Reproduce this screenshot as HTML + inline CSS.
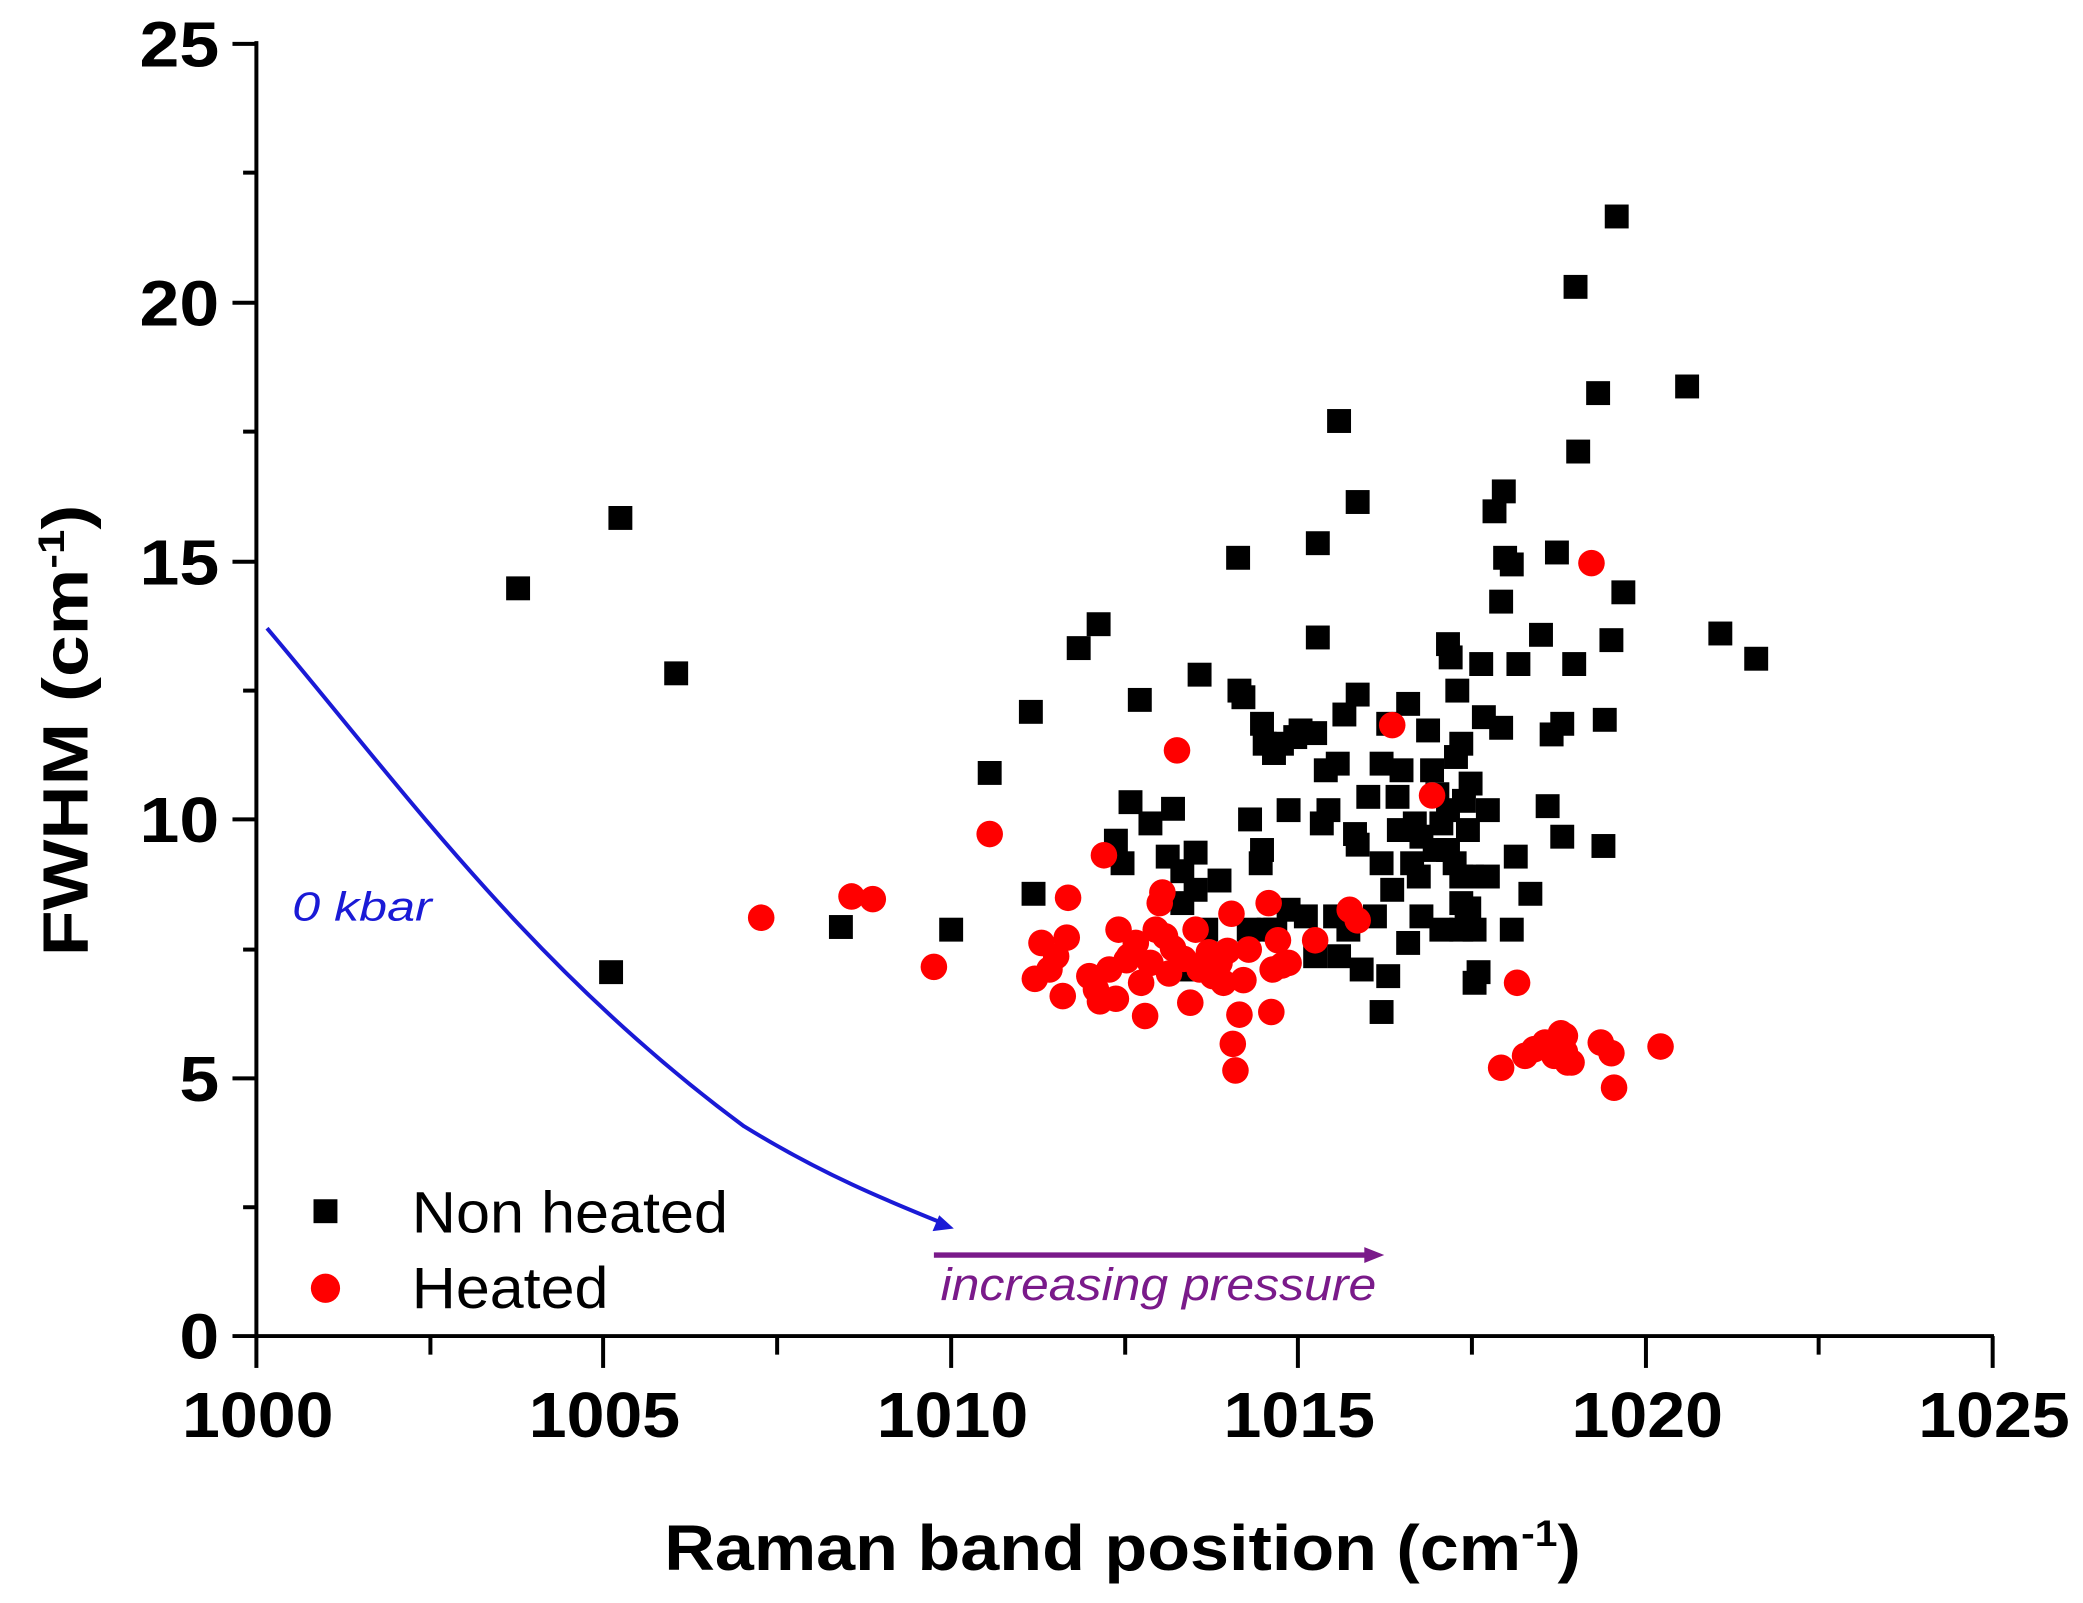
<!DOCTYPE html>
<html><head><meta charset="utf-8"><style>
html,body{margin:0;padding:0;background:#fff;}
svg{display:block;}
text{font-family:"Liberation Sans",Arial,sans-serif;}
</style></head><body>
<svg width="2083" height="1603" viewBox="0 0 1568 1207" preserveAspectRatio="none" xmlns="http://www.w3.org/2000/svg">
<rect width="1568" height="1207" fill="#fff"/>
<g stroke="#000" stroke-width="3" fill="none">
<line x1="193" y1="31" x2="193" y2="1007"/>
<line x1="175" y1="1006" x2="1501" y2="1006"/>
<line x1="175" y1="33" x2="193" y2="33"/><line x1="183" y1="130" x2="193" y2="130"/>
<line x1="175" y1="228" x2="193" y2="228"/><line x1="183" y1="325" x2="193" y2="325"/>
<line x1="175" y1="423" x2="193" y2="423"/><line x1="183" y1="520" x2="193" y2="520"/>
<line x1="175" y1="617" x2="193" y2="617"/><line x1="183" y1="715" x2="193" y2="715"/>
<line x1="175" y1="812" x2="193" y2="812"/><line x1="183" y1="909" x2="193" y2="909"/>
<line x1="193" y1="1006" x2="193" y2="1030"/><line x1="324" y1="1006" x2="324" y2="1020"/>
<line x1="454" y1="1006" x2="454" y2="1030"/><line x1="585" y1="1006" x2="585" y2="1020"/>
<line x1="716" y1="1006" x2="716" y2="1030"/><line x1="847" y1="1006" x2="847" y2="1020"/>
<line x1="977" y1="1006" x2="977" y2="1030"/><line x1="1108" y1="1006" x2="1108" y2="1020"/>
<line x1="1239" y1="1006" x2="1239" y2="1030"/><line x1="1369" y1="1006" x2="1369" y2="1020"/>
<line x1="1500" y1="1006" x2="1500" y2="1030"/>
</g>
<g font-size="48" font-weight="bold" fill="#000">
<text x="105" y="50" textLength="60" lengthAdjust="spacingAndGlyphs">25</text>
<text x="105" y="245" textLength="60" lengthAdjust="spacingAndGlyphs">20</text>
<text x="105" y="440" textLength="60" lengthAdjust="spacingAndGlyphs">15</text>
<text x="105" y="634" textLength="60" lengthAdjust="spacingAndGlyphs">10</text>
<text x="135" y="829" textLength="30" lengthAdjust="spacingAndGlyphs">5</text>
<text x="135" y="1023" textLength="30" lengthAdjust="spacingAndGlyphs">0</text>
<text x="137" y="1082" textLength="114" lengthAdjust="spacingAndGlyphs">1000</text>
<text x="398" y="1082" textLength="114" lengthAdjust="spacingAndGlyphs">1005</text>
<text x="660" y="1082" textLength="114" lengthAdjust="spacingAndGlyphs">1010</text>
<text x="921" y="1082" textLength="114" lengthAdjust="spacingAndGlyphs">1015</text>
<text x="1183" y="1082" textLength="114" lengthAdjust="spacingAndGlyphs">1020</text>
<text x="1444" y="1082" textLength="114" lengthAdjust="spacingAndGlyphs">1025</text>
</g>
<text x="500" y="1182" font-size="48" font-weight="bold" textLength="690" lengthAdjust="spacingAndGlyphs">Raman band position (cm<tspan dy="-18" font-size="28">-1</tspan><tspan dy="18">)</tspan></text>
<text transform="translate(66,720) rotate(-90)" font-size="48" font-weight="bold" textLength="340" lengthAdjust="spacingAndGlyphs">FWHM (cm<tspan dy="-18" font-size="28">-1</tspan><tspan dy="18">)</tspan></text>

<path d="M201,473 C300,590 400,730 560,848 C620,885 670,905 712,922" stroke="#1a1ad6" stroke-width="3" fill="none"/>
<polygon points="718,925 702,927 707,915" fill="#1a1ad6"/>
<text x="220" y="693" font-size="31" font-style="italic" fill="#1a1ad6" textLength="105" lengthAdjust="spacingAndGlyphs">0 kbar</text>
<line x1="703" y1="945" x2="1030" y2="945" stroke="#7a1a8a" stroke-width="4"/>
<polygon points="1042,945 1027,939 1027,951" fill="#7a1a8a"/>
<text x="708" y="979" font-size="34" font-style="italic" fill="#7a1a8a" textLength="328" lengthAdjust="spacingAndGlyphs">increasing pressure</text>

<rect x="236" y="903" width="18" height="18" fill="#000"/>
<text x="310" y="928" font-size="44" textLength="238" lengthAdjust="spacingAndGlyphs">Non heated</text>
<circle cx="245" cy="970" r="11" fill="#f00"/>
<text x="310" y="985" font-size="44" textLength="148" lengthAdjust="spacingAndGlyphs">Heated</text>

<g fill="#000">
<rect x="381" y="434" width="18" height="18"/><rect x="458" y="381" width="18" height="18"/><rect x="500" y="498" width="18" height="18"/><rect x="451" y="723" width="18" height="18"/><rect x="624" y="689" width="18" height="18"/><rect x="707" y="691" width="18" height="18"/><rect x="736" y="573" width="18" height="18"/><rect x="767" y="527" width="18" height="18"/><rect x="769" y="664" width="18" height="18"/><rect x="803" y="479" width="18" height="18"/><rect x="818" y="461" width="18" height="18"/><rect x="831" y="624" width="18" height="18"/><rect x="842" y="595" width="18" height="18"/><rect x="857" y="611" width="18" height="18"/><rect x="849" y="518" width="18" height="18"/><rect x="870" y="636" width="18" height="18"/><rect x="874" y="600" width="18" height="18"/><rect x="881" y="647" width="18" height="18"/><rect x="891" y="661" width="18" height="18"/><rect x="891" y="633" width="18" height="18"/><rect x="894" y="499" width="18" height="18"/><rect x="899" y="691" width="18" height="18"/><rect x="909" y="654" width="18" height="18"/><rect x="923" y="411" width="18" height="18"/><rect x="924" y="511" width="18" height="18"/><rect x="927" y="516" width="18" height="18"/><rect x="932" y="608" width="18" height="18"/><rect x="940" y="641" width="18" height="18"/><rect x="941" y="536" width="18" height="18"/><rect x="943" y="551" width="18" height="18"/><rect x="950" y="558" width="18" height="18"/><rect x="956" y="551" width="18" height="18"/><rect x="966" y="546" width="18" height="18"/><rect x="970" y="541" width="18" height="18"/><rect x="981" y="543" width="18" height="18"/><rect x="974" y="681" width="18" height="18"/><rect x="983" y="400" width="18" height="18"/><rect x="983" y="471" width="18" height="18"/><rect x="989" y="571" width="18" height="18"/><rect x="986" y="611" width="18" height="18"/><rect x="998" y="566" width="18" height="18"/><rect x="999" y="308" width="18" height="18"/><rect x="1013" y="369" width="18" height="18"/><rect x="1003" y="529" width="18" height="18"/><rect x="1013" y="514" width="18" height="18"/><rect x="1013" y="627" width="18" height="18"/><rect x="1011" y="619" width="18" height="18"/><rect x="1016" y="721" width="18" height="18"/><rect x="1031" y="753" width="18" height="18"/><rect x="1031" y="566" width="18" height="18"/><rect x="1036" y="536" width="18" height="18"/><rect x="1043" y="591" width="18" height="18"/><rect x="1044" y="616" width="18" height="18"/><rect x="1039" y="661" width="18" height="18"/><rect x="1051" y="701" width="18" height="18"/><rect x="1054" y="641" width="18" height="18"/><rect x="1059" y="651" width="18" height="18"/><rect x="1061" y="681" width="18" height="18"/><rect x="1066" y="541" width="18" height="18"/><rect x="1069" y="571" width="18" height="18"/><rect x="1073" y="589" width="18" height="18"/><rect x="1076" y="611" width="18" height="18"/><rect x="1081" y="631" width="18" height="18"/><rect x="1081" y="476" width="18" height="18"/><rect x="1083" y="486" width="18" height="18"/><rect x="1088" y="511" width="18" height="18"/><rect x="1091" y="551" width="18" height="18"/><rect x="1093" y="594" width="18" height="18"/><rect x="1096" y="616" width="18" height="18"/><rect x="1091" y="671" width="18" height="18"/><rect x="1098" y="581" width="18" height="18"/><rect x="1104" y="723" width="18" height="18"/><rect x="1099" y="651" width="18" height="18"/><rect x="1106" y="491" width="18" height="18"/><rect x="1108" y="531" width="18" height="18"/><rect x="1111" y="601" width="18" height="18"/><rect x="1116" y="376" width="18" height="18"/><rect x="1123" y="361" width="18" height="18"/><rect x="1121" y="444" width="18" height="18"/><rect x="1124" y="411" width="18" height="18"/><rect x="1129" y="416" width="18" height="18"/><rect x="1134" y="491" width="18" height="18"/><rect x="1121" y="539" width="18" height="18"/><rect x="1129" y="691" width="18" height="18"/><rect x="1132" y="636" width="18" height="18"/><rect x="1143" y="664" width="18" height="18"/><rect x="1151" y="469" width="18" height="18"/><rect x="1156" y="598" width="18" height="18"/><rect x="1159" y="544" width="18" height="18"/><rect x="1167" y="621" width="18" height="18"/><rect x="1163" y="407" width="18" height="18"/><rect x="1167" y="536" width="18" height="18"/><rect x="1176" y="491" width="18" height="18"/><rect x="1179" y="331" width="18" height="18"/><rect x="1177" y="207" width="18" height="18"/><rect x="1194" y="287" width="18" height="18"/><rect x="1199" y="533" width="18" height="18"/><rect x="1198" y="628" width="18" height="18"/><rect x="1204" y="473" width="18" height="18"/><rect x="1208" y="154" width="18" height="18"/><rect x="1213" y="437" width="18" height="18"/><rect x="1261" y="282" width="18" height="18"/><rect x="1286" y="468" width="18" height="18"/><rect x="1313" y="487" width="18" height="18"/><rect x="941" y="631" width="18" height="18"/><rect x="951" y="691" width="18" height="18"/><rect x="961" y="676" width="18" height="18"/><rect x="991" y="601" width="18" height="18"/><rect x="1021" y="591" width="18" height="18"/><rect x="1026" y="681" width="18" height="18"/><rect x="1046" y="571" width="18" height="18"/><rect x="1006" y="691" width="18" height="18"/><rect x="1036" y="726" width="18" height="18"/><rect x="1051" y="521" width="18" height="18"/><rect x="1056" y="611" width="18" height="18"/><rect x="1071" y="631" width="18" height="18"/><rect x="1086" y="641" width="18" height="18"/><rect x="1091" y="691" width="18" height="18"/><rect x="1101" y="731" width="18" height="18"/><rect x="1111" y="651" width="18" height="18"/><rect x="1081" y="601" width="18" height="18"/><rect x="996" y="681" width="18" height="18"/><rect x="881" y="671" width="18" height="18"/><rect x="886" y="721" width="18" height="18"/><rect x="931" y="691" width="18" height="18"/><rect x="946" y="691" width="18" height="18"/><rect x="981" y="711" width="18" height="18"/><rect x="836" y="641" width="18" height="18"/><rect x="961" y="601" width="18" height="18"/><rect x="1087" y="561" width="18" height="18"/><rect x="1091" y="651" width="18" height="18"/><rect x="1095" y="681" width="18" height="18"/><rect x="1097" y="675" width="18" height="18"/><rect x="1101" y="691" width="18" height="18"/><rect x="1076" y="691" width="18" height="18"/><rect x="999" y="711" width="18" height="18"/><rect x="1031" y="641" width="18" height="18"/><rect x="1061" y="621" width="18" height="18"/>
</g>
<g fill="#f00">
<circle cx="573" cy="691" r="10"/><circle cx="641" cy="675" r="10"/><circle cx="657" cy="677" r="10"/><circle cx="703" cy="728" r="10"/><circle cx="745" cy="628" r="10"/><circle cx="779" cy="737" r="10"/><circle cx="784" cy="710" r="10"/><circle cx="795" cy="720" r="10"/><circle cx="800" cy="750" r="10"/><circle cx="804" cy="676" r="10"/><circle cx="803" cy="706" r="10"/><circle cx="820" cy="735" r="10"/><circle cx="825" cy="745" r="10"/><circle cx="828" cy="754" r="10"/><circle cx="831" cy="644" r="10"/><circle cx="835" cy="730" r="10"/><circle cx="840" cy="752" r="10"/><circle cx="842" cy="700" r="10"/><circle cx="848" cy="723" r="10"/><circle cx="855" cy="710" r="10"/><circle cx="859" cy="740" r="10"/><circle cx="862" cy="765" r="10"/><circle cx="866" cy="725" r="10"/><circle cx="870" cy="700" r="10"/><circle cx="873" cy="680" r="10"/><circle cx="875" cy="672" r="10"/><circle cx="877" cy="705" r="10"/><circle cx="880" cy="733" r="10"/><circle cx="883" cy="714" r="10"/><circle cx="886" cy="565" r="10"/><circle cx="891" cy="722" r="10"/><circle cx="896" cy="755" r="10"/><circle cx="900" cy="700" r="10"/><circle cx="903" cy="730" r="10"/><circle cx="907" cy="725" r="10"/><circle cx="910" cy="717" r="10"/><circle cx="913" cy="735" r="10"/><circle cx="918" cy="725" r="10"/><circle cx="921" cy="740" r="10"/><circle cx="924" cy="716" r="10"/><circle cx="927" cy="688" r="10"/><circle cx="928" cy="786" r="10"/><circle cx="930" cy="806" r="10"/><circle cx="933" cy="764" r="10"/><circle cx="936" cy="738" r="10"/><circle cx="940" cy="715" r="10"/><circle cx="955" cy="680" r="10"/><circle cx="957" cy="762" r="10"/><circle cx="958" cy="730" r="10"/><circle cx="962" cy="708" r="10"/><circle cx="965" cy="727" r="10"/><circle cx="970" cy="725" r="10"/><circle cx="990" cy="708" r="10"/><circle cx="1016" cy="685" r="10"/><circle cx="1022" cy="693" r="10"/><circle cx="1048" cy="546" r="10"/><circle cx="1078" cy="599" r="10"/><circle cx="1142" cy="740" r="10"/><circle cx="1130" cy="804" r="10"/><circle cx="1148" cy="795" r="10"/><circle cx="1155" cy="790" r="10"/><circle cx="1163" cy="785" r="10"/><circle cx="1170" cy="795" r="10"/><circle cx="1175" cy="778" r="10"/><circle cx="1178" cy="792" r="10"/><circle cx="1180" cy="800" r="10"/><circle cx="1183" cy="800" r="10"/><circle cx="1178" cy="780" r="10"/><circle cx="1205" cy="785" r="10"/><circle cx="1213" cy="793" r="10"/><circle cx="1215" cy="819" r="10"/><circle cx="1250" cy="788" r="10"/><circle cx="1198" cy="424" r="10"/><circle cx="850" cy="720" r="10"/><circle cx="790" cy="730" r="10"/>
</g>
</svg>
</body></html>
